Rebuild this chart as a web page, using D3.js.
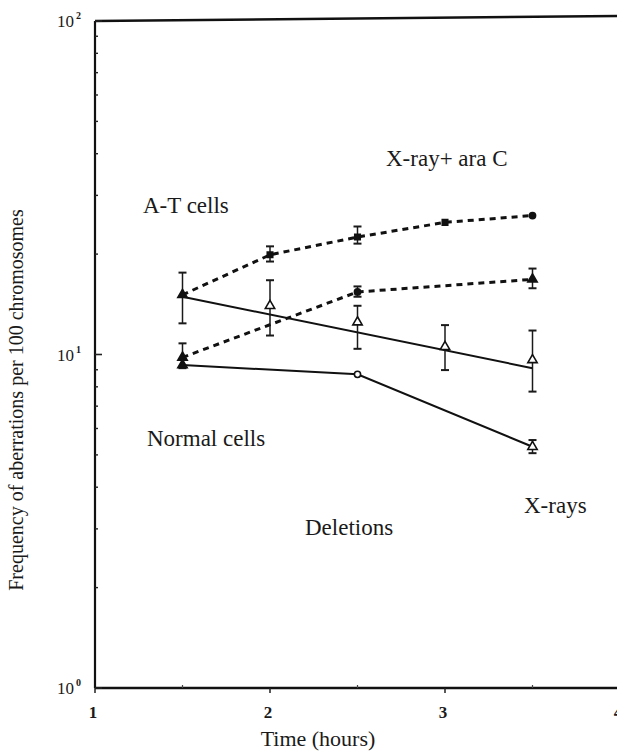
<!DOCTYPE html>
<html>
<head>
<meta charset="utf-8">
<script src="https://cdn.jsdelivr.net/npm/d3@7"></script>
<style>
  html, body { margin: 0; padding: 0; background: #fff; }
  svg { display: block; }
  text { font-family: "Liberation Serif", "DejaVu Serif", serif; fill: #1a1a1a; }
</style>
</head>
<body>
<svg id="chart" width="617" height="753"></svg>
<script>
// Sampling times (hours)
const times = [1.5, 2, 2.5, 3, 3.5];
const timesSparse = [1.5, 2.5, 3.5];

// A-T cells, X-ray + ara C (dashed, filled marks)
const atAraC = [15.1, 19.9, 22.5, 24.9, 26.1];
const atAraCLow = [null, 19.0, 21.5, null, null];
const atAraCHigh = [null, 21.1, 24.2, null, null];

// Normal cells, X-ray + ara C (dashed)
const normAraC = [9.8, 15.4, 16.8];
const normAraCLow = [9.1, 14.9, 15.8];
const normAraCHigh = [10.8, 16.0, 18.1];

// A-T cells, X-rays alone (open triangles, fitted straight line)
const atXray = [15.1, 14.0, 12.5, 10.55, 9.63];
const atXrayLow = [12.4, 11.4, 10.4, 8.98, 7.74];
const atXrayHigh = [17.6, 16.7, 14.0, 12.25, 11.8];
const atXrayFitTimes = [1.5, 3.5];
const atXrayFit = [14.9, 9.1];

// Normal cells, X-rays alone (solid)
const normXray = [9.3, 8.72, 5.29];
const normXrayLow = [null, null, 5.06];
const normXrayHigh = [null, null, 5.54];

// Axis ticks
const xTicks = [1, 2, 3, 4];
const xMinorTicks = [1.5, 2.5, 3.5];
const yMajor = [1, 10, 100];
const yExponents = ["0", "1", "2"];

const svg = d3.select("#chart");

const x = d3.scaleLinear().domain([1, 4]).range([95, 620]);
const y = d3.scaleLog().domain([1, 100]).range([688, 21]);

// Frame: left axis, bottom axis, top border
svg.append("line").attr("x1", x(1)).attr("x2", x(1)).attr("y1", y(100)).attr("y2", y(1))
  .attr("stroke", "#111").attr("stroke-width", 2.2);
svg.append("line").attr("x1", x(1)).attr("x2", 617).attr("y1", y(1)).attr("y2", y(1))
  .attr("stroke", "#111").attr("stroke-width", 2.6);
svg.append("line").attr("x1", x(1)).attr("x2", 617).attr("y1", y(100)).attr("y2", y(100) - 5)
  .attr("stroke", "#111").attr("stroke-width", 2.4);

// Y ticks (inward) — majors and log minors
const yMinor = [];
[1, 10].forEach(dec => { for (let k = 2; k <= 9; k++) yMinor.push(dec * k); });
svg.append("g").selectAll("line").data(yMinor).join("line")
  .attr("x1", x(1)).attr("x2", x(1) + 3)
  .attr("y1", d => y(d)).attr("y2", d => y(d))
  .attr("stroke", "#222").attr("stroke-width", 1.4);
svg.append("g").selectAll("line").data(yMajor).join("line")
  .attr("x1", x(1)).attr("x2", x(1) + 7)
  .attr("y1", d => y(d)).attr("y2", d => y(d))
  .attr("stroke", "#222").attr("stroke-width", 1.6);

// Y tick labels 10^n
const yl = svg.append("g").selectAll("text").data(yMajor).join("text")
  .attr("x", x(1) - 38).attr("y", d => y(d) + 6)
  .attr("font-size", 17);
yl.append("tspan").text("10");
yl.append("tspan").attr("dy", -8).attr("dx", 2).attr("font-size", 10).attr("font-weight", "bold")
  .text((d, i) => yExponents[i]);

// X ticks (outward) and labels
svg.append("g").selectAll("line").data(xTicks.filter(t => x(t) < 617)).join("line")
  .attr("x1", d => x(d)).attr("x2", d => x(d))
  .attr("y1", y(1)).attr("y2", y(1) + 5)
  .attr("stroke", "#222").attr("stroke-width", 1.5);
svg.append("g").selectAll("line").data(xMinorTicks).join("line")
  .attr("x1", d => x(d)).attr("x2", d => x(d))
  .attr("y1", y(1)).attr("y2", y(1) - 3)
  .attr("stroke", "#444").attr("stroke-width", 1.2);
svg.append("g").selectAll("text").data(xTicks).join("text")
  .attr("x", d => x(d) - 2).attr("y", y(1) + 30)
  .attr("text-anchor", "middle").attr("font-size", 17).attr("font-weight", "bold")
  .text(d => d);

// Axis titles
svg.append("text").attr("x", 318).attr("y", 746)
  .attr("text-anchor", "middle").attr("font-size", 22).text("Time (hours)");
svg.append("text")
  .attr("transform", "translate(23, 400) rotate(-90)")
  .attr("text-anchor", "middle").attr("font-size", 20)
  .text("Frequency of aberrations per 100 chromosomes");

// Helpers
const lineGen = d3.line().x(d => x(d[0])).y(d => y(d[1]));
function zipSeries(ts, vs) { return ts.map((t, i) => [t, vs[i]]); }

function errorBars(ts, lows, highs) {
  const data = ts.map((t, i) => ({ t, lo: lows[i], hi: highs[i] })).filter(d => d.lo != null);
  const g = svg.append("g").attr("stroke", "#1a1a1a").attr("stroke-width", 1.5);
  g.selectAll(".v").data(data).join("line")
    .attr("x1", d => x(d.t)).attr("x2", d => x(d.t))
    .attr("y1", d => y(d.lo)).attr("y2", d => y(d.hi));
  g.selectAll(".lo").data(data).join("line")
    .attr("x1", d => x(d.t) - 4).attr("x2", d => x(d.t) + 4)
    .attr("y1", d => y(d.lo)).attr("y2", d => y(d.lo)).attr("stroke-width", 2);
  g.selectAll(".hi").data(data).join("line")
    .attr("x1", d => x(d.t) - 4).attr("x2", d => x(d.t) + 4)
    .attr("y1", d => y(d.hi)).attr("y2", d => y(d.hi)).attr("stroke-width", 2);
}

function marks(ts, vs, shapes, filled) {
  const data = ts.map((t, i) => ({ t, v: vs[i], s: shapes[i], f: filled[i] }));
  svg.append("g").selectAll("path").data(data).join("path")
    .attr("transform", d => `translate(${x(d.t)},${y(d.v)})`)
    .attr("d", d => d3.symbol().type(d.s === "tri" ? d3.symbolTriangle : (d.s === "sq" ? d3.symbolSquare : d3.symbolCircle)).size(d.s === "tri" ? 38 : 30)())
    .attr("fill", d => d.f ? "#111" : "#fff")
    .attr("stroke", "#111").attr("stroke-width", 1.6);
}

// Dashed series (X-ray + ara C)
svg.append("path").datum(zipSeries(times, atAraC)).attr("d", lineGen)
  .attr("fill", "none").attr("stroke", "#111").attr("stroke-width", 3)
  .attr("stroke-dasharray", "6,5");
svg.append("path").datum(zipSeries(timesSparse, normAraC)).attr("d", lineGen)
  .attr("fill", "none").attr("stroke", "#111").attr("stroke-width", 3)
  .attr("stroke-dasharray", "6,5");

// Solid series (X-rays alone)
svg.append("path").datum(zipSeries(atXrayFitTimes, atXrayFit)).attr("d", lineGen)
  .attr("fill", "none").attr("stroke", "#111").attr("stroke-width", 2);
svg.append("path").datum(zipSeries(timesSparse, normXray)).attr("d", lineGen)
  .attr("fill", "none").attr("stroke", "#111").attr("stroke-width", 2);

// Error bars
errorBars(times, atAraCLow, atAraCHigh);
errorBars(timesSparse, normAraCLow, normAraCHigh);
errorBars(times, atXrayLow, atXrayHigh);
errorBars(timesSparse, normXrayLow, normXrayHigh);

// Markers
marks(times, atAraC, ["tri", "sq", "sq", "sq", "circ"], [true, true, true, true, true]);
marks(timesSparse, normAraC, ["tri", "circ", "tri"], [true, true, true]);
marks(times.slice(1), atXray.slice(1), ["tri", "tri", "tri", "tri"], [false, false, false, false]);
marks(timesSparse, normXray, ["tri", "circ", "tri"], [true, false, false]);

// Annotations
const notes = [
  { t: "X-ray+ ara C", x: 386, y: 166 },
  { t: "A-T cells", x: 143, y: 213 },
  { t: "Normal cells", x: 147, y: 446 },
  { t: "X-rays", x: 524, y: 513 },
  { t: "Deletions", x: 305, y: 535 }
];
svg.append("g").selectAll("text").data(notes).join("text")
  .attr("x", d => d.x).attr("y", d => d.y).attr("font-size", 23)
  .text(d => d.t);
</script>
</body>
</html>
